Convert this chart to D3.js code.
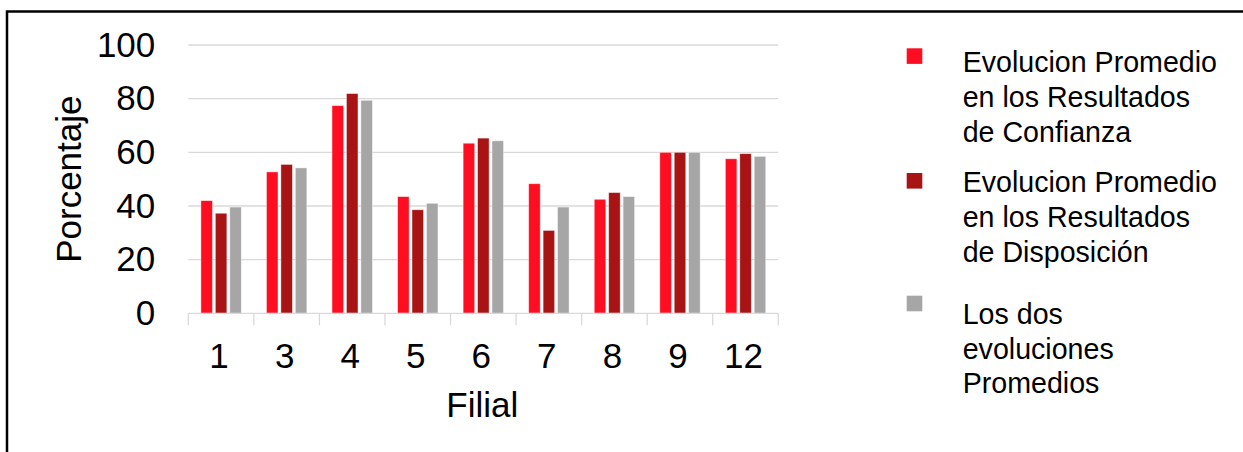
<!DOCTYPE html>
<html>
<head>
<meta charset="utf-8">
<script src="https://cdn.jsdelivr.net/npm/d3@7/dist/d3.min.js"></script>
<style>
  html, body { margin: 0; padding: 0; background: #fff; }
  svg { display: block; font-family: "Liberation Sans", Arial, sans-serif; }
</style>
</head>
<body>
<svg id="chart" width="1243" height="452"></svg>
<script>
// Branches (Filial) on the x axis
const filiales = ["1", "3", "4", "5", "6", "7", "8", "9", "12"];

// Average evolution per branch, in percent
const confianza   = [42.0, 52.7, 77.4, 43.5, 63.4, 48.3, 42.5, 60.0, 57.6];
const disposicion = [37.3, 55.5, 81.9, 38.6, 65.3, 30.9, 45.0, 60.0, 59.5];
const ambos       = [39.6, 54.2, 79.4, 41.0, 64.3, 39.6, 43.5, 60.0, 58.5];

const yTicks = [0, 20, 40, 60, 80, 100];

const seriesNames = ["confianza", "disposicion", "ambos"];
const seriesColors = ["#ff0d21", "#a81314", "#a6a6a6"];
const legendLines = [
  ["Evolucion Promedio", "en los Resultados", "de Confianza"],
  ["Evolucion Promedio", "en los Resultados", "de Disposición"],
  ["Los dos", "evoluciones", "Promedios"]
];

const seriesValues = [confianza, disposicion, ambos];
const rows = filiales.map((f, i) => ({
  filial: f,
  values: seriesNames.map((s, j) => ({ key: s, value: seriesValues[j][i], color: seriesColors[j] }))
}));

const svg = d3.select("#chart");

// Frame (top and left edges)
svg.append("path")
  .attr("d", "M7,452 V11.5 H1243")
  .attr("fill", "none")
  .attr("stroke", "#000")
  .attr("stroke-width", 2.5);

const plot = { left: 188.3, right: 778.3, top: 45, bottom: 313.3 };

const x0 = d3.scaleBand().domain(filiales).range([plot.left, plot.right]).paddingInner(0).paddingOuter(0);
const x1 = d3.scaleBand().domain(seriesNames).range([12.6, 53]).paddingInner(0.2).paddingOuter(0);
const y = d3.scaleLinear().domain([0, 100]).range([plot.bottom, plot.top]);

// Horizontal gridlines
svg.append("g")
  .selectAll("line")
  .data(yTicks.filter(t => t > 0))
  .join("line")
  .attr("x1", plot.left).attr("x2", plot.right)
  .attr("y1", d => y(d)).attr("y2", d => y(d))
  .attr("stroke", "#d9d9d9")
  .attr("stroke-width", 1.3);

// Y axis labels
const yAxis = d3.axisLeft(y).tickValues(yTicks).tickSize(0).tickPadding(33);
const gy = svg.append("g").attr("transform", `translate(${plot.left},0)`).call(yAxis);
gy.select(".domain").remove();
gy.selectAll("text")
  .attr("font-size", 35)
  .attr("font-family", "Liberation Sans, Arial, sans-serif")
  .attr("fill", "#000");

// Bars
svg.append("g")
  .selectAll("g")
  .data(rows)
  .join("g")
  .attr("transform", d => `translate(${x0(d.filial)},0)`)
  .selectAll("rect")
  .data(d => d.values)
  .join("rect")
  .attr("x", d => x1(d.key))
  .attr("width", x1.bandwidth())
  .attr("y", d => y(d.value))
  .attr("height", d => y(0) - y(d.value))
  .attr("fill", d => d.color)
  .attr("stroke", "rgba(255,255,255,0.55)")
  .attr("stroke-width", 0.8);

// X axis line with tick marks at category boundaries
const gx = svg.append("g").attr("transform", `translate(0,${plot.bottom})`);
gx.append("line")
  .attr("x1", plot.left).attr("x2", plot.right)
  .attr("y1", 0).attr("y2", 0)
  .attr("stroke", "#d9d9d9").attr("stroke-width", 1.3);
const boundaries = filiales.map(f => x0(f)).concat([plot.right]);
gx.selectAll("line.tick")
  .data(boundaries)
  .join("line")
  .attr("class", "tick")
  .attr("x1", d => d).attr("x2", d => d)
  .attr("y1", 0).attr("y2", 12)
  .attr("stroke", "#d9d9d9").attr("stroke-width", 1.3);

const xAxis = d3.axisBottom(x0).tickSize(0).tickPadding(0);
const gxl = svg.append("g").attr("transform", `translate(-2,${plot.bottom})`).call(xAxis);
gxl.select(".domain").remove();
gxl.selectAll("text")
  .attr("dy", null)
  .attr("y", 55)
  .attr("font-size", 35)
  .attr("font-family", "Liberation Sans, Arial, sans-serif")
  .attr("fill", "#000");

// Axis titles
svg.append("text")
  .attr("x", (plot.left + plot.right) / 2 - 1)
  .attr("y", 416.7)
  .attr("text-anchor", "middle")
  .attr("font-size", 35)
  .attr("fill", "#000")
  .text("Filial");

svg.append("text")
  .attr("transform", `translate(80.7,${(plot.top + plot.bottom) / 2}) rotate(-90)`)
  .attr("text-anchor", "middle")
  .attr("font-size", 35)
  .attr("fill", "#000")
  .text("Porcentaje");

// Legend
const legendSquareY = [48.3, 173, 295.7];
const legendTextY = [72.3, 192.3, 324];
const legend = svg.append("g");
seriesNames.forEach((s, i) => {
  legend.append("rect")
    .attr("x", 906.7).attr("y", legendSquareY[i])
    .attr("width", 15.6).attr("height", 15.6)
    .attr("fill", seriesColors[i]);
  const t = legend.append("text")
    .attr("x", 962.7)
    .attr("y", legendTextY[i])
    .attr("font-size", 28.6)
    .attr("fill", "#000");
  legendLines[i].forEach((line, k) => {
    t.append("tspan")
      .attr("x", 962.7)
      .attr("y", legendTextY[i] + k * 34.7)
      .text(line);
  });
});
</script>
</body>
</html>
